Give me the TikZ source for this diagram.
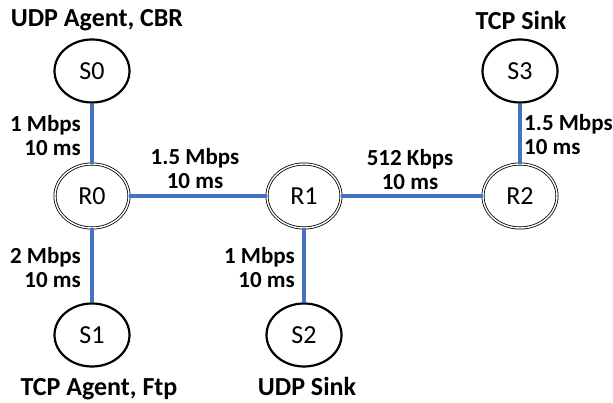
\documentclass[tikz,border=0pt]{standalone}
\usepackage{fontspec}
\setmainfont{Carlito}
\usetikzlibrary{shapes.geometric}
\definecolor{linkblue}{RGB}{68,114,196}

\begin{document}
\begin{tikzpicture}[x=1pt,y=1pt,line cap=round,line join=round]
        \tikzset{
          host/.style={ellipse,draw=black,line width=2.2pt,minimum width=75pt,minimum height=63pt,inner sep=0pt,font=\fontsize{26}{26}\selectfont},
          router/.style={ellipse,draw=black,double,double distance=1.4pt,line width=0.8pt,minimum width=74pt,minimum height=64pt,inner sep=0pt,font=\fontsize{26}{26}\selectfont},
          link/.style={draw=linkblue,line width=3.6pt,line cap=butt},
          lbl/.style={font=\bfseries\fontsize{23}{24.5}\selectfont,inner sep=0pt},
          agent/.style={font=\bfseries\fontsize{26}{28}\selectfont,inner sep=0pt,anchor=base}
        }
        \useasboundingbox (0,0) rectangle (613,403);
        % routers
        \node[router] (R0) at (92,207) {R0};
        \node[router] (R1) at (304,207) {R1};
        \node[router] (R2) at (520,207) {R2};
        % end hosts
        \node[host] (S0) at (92,332) {S0};
        \node[host] (S3) at (520,332) {S3};
        \node[host] (S1) at (92,68) {S1};
        \node[host] (S2) at (304,68) {S2};
        % links
        \draw[link] (S0) -- (R0);
        \draw[link] (R0) -- (R1);
        \draw[link] (R1) -- (R2);
        \draw[link] (S3) -- (R2);
        \draw[link] (R0) -- (S1);
        \draw[link] (R1) -- (S2);
        % agents
        \node[agent] (aS0) at (97,376) {UDP Agent, CBR};
        \node[agent] (aS3) at (521,373) {TCP Sink};
        \node[agent] (aS1) at (99,7) {TCP Agent, Ftp};
        \node[agent] (aS2) at (307,7) {UDP Sink};
        % link parameters (base = last line)
        \node[lbl,align=right,anchor=base east] (pS0) at (81,247) {1 Mbps\\10 ms};
        \node[lbl,align=center,anchor=base] (pR0) at (195,214) {1.5 Mbps\\10 ms};
        \node[lbl,align=center,anchor=base] (pR1) at (410,213) {512 Kbps\\10 ms};
        \node[lbl,align=left,anchor=base west] (pS3) at (524,248) {1.5 Mbps\\10 ms};
        \node[lbl,align=right,anchor=base east] (pS1) at (81,115) {2 Mbps\\10 ms};
        \node[lbl,align=right,anchor=base east] (pS2) at (295,115) {1 Mbps\\10 ms};
      \end{tikzpicture}
\end{document}
